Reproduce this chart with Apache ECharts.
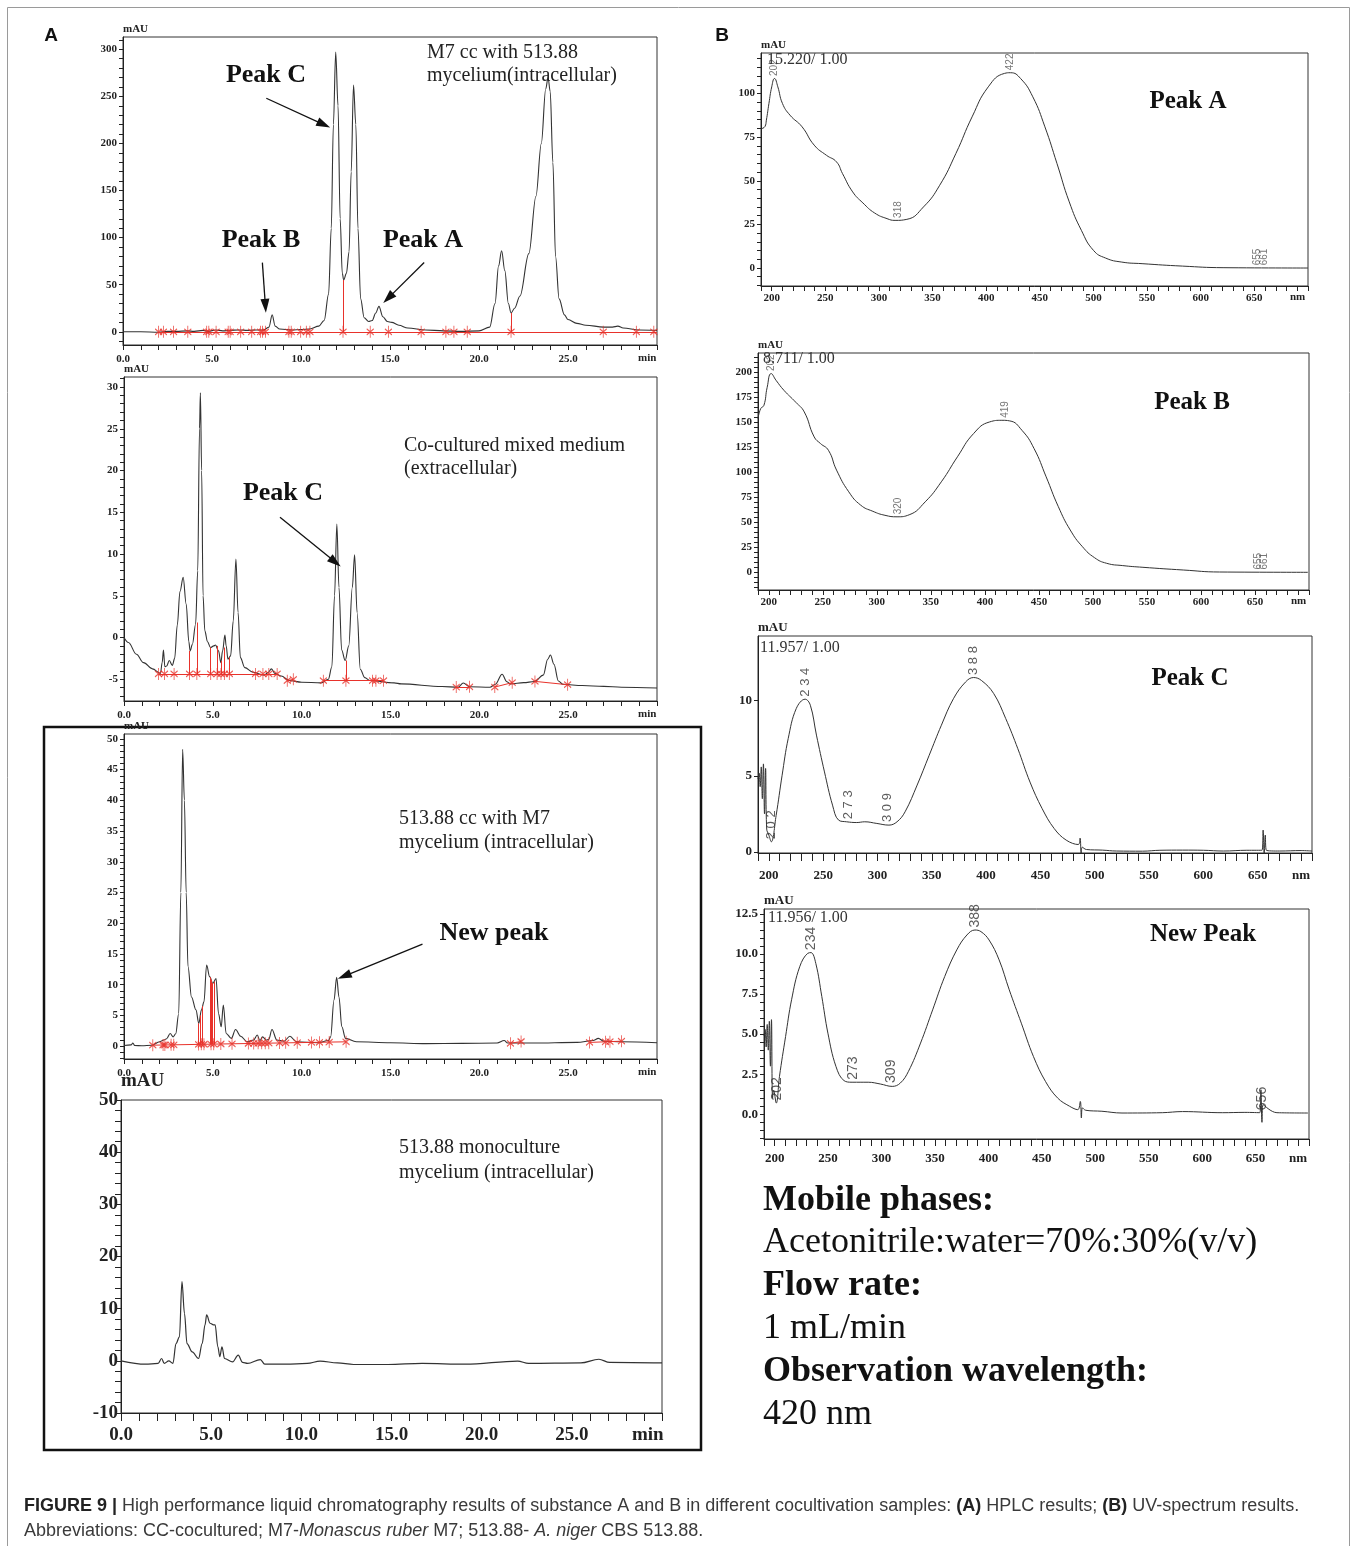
<!DOCTYPE html>
<html><head><meta charset="utf-8">
<script src="https://cdn.jsdelivr.net/npm/echarts@6/dist/echarts.min.js"></script>
<style>html,body{margin:0;padding:0;background:#fff}#c{width:1357px;height:1546px}</style>
</head><body><div id="c"></div>
<script>
// ================= DATA =================
// Panel A1: M7 cc with 513.88 mycelium (intracellular)
const a1Time = [0,1,2,2.5,3,3.6,4,4.5,4.8,5.2,5.6,6,6.5,7,7.5,7.9,8.2,8.38,8.55,8.8,9.5,10,10.5,11,11.3,11.55,11.7,11.82,11.95,12.08,12.2,12.32,12.4,12.55,12.7,12.82,12.95,13.08,13.2,13.35,13.55,13.8,14.0,14.2,14.38,14.6,14.85,15.1,15.5,16,17,18,19,20,20.6,20.9,21.1,21.27,21.45,21.65,21.8,22.0,22.3,22.8,23.2,23.5,23.75,23.88,24.0,24.15,24.3,24.5,24.8,25,25.5,26,27,27.5,27.8,28.1,29,30];
const a1Signal = [0,0,-0.5,0.5,0.5,1,0.5,1.5,0.5,2,1,1.5,2,1.5,2,2,5,18,6,3,2,2.5,3,6,12,40,110,220,297,240,120,62,55,62,85,170,262,220,110,35,15,11,12,20,27,16,11,10,7,4,2,1,0.5,1,5,30,70,86,65,30,20,25,38,83,144,200,258,270,255,180,80,35,18,13,9,7,5,5,6,4,2,1.5];
const a1MarkTime = [2.0,2.27,2.84,3.64,4.7,4.82,5.23,5.91,6.02,6.61,7.23,7.73,7.84,8.0,9.32,9.45,9.98,10.3,10.5,12.36,13.89,14.91,16.75,18.14,18.59,19.34,21.8,26.98,28.84,29.82];
const a1MarkLevel = [0,0,0,0,0,0,0,0,0,0,0,0,0,0,0,0,0,0,0,0,0,0,0,0,0,0,0,0,0,0];
const a1BaseStart = [2.0], a1BaseStartLevel = [0], a1BaseEnd = [30], a1BaseEndLevel = [0];
const a1DropTime = [12.36,21.8], a1DropBase = [0,0], a1DropTop = [55,20];

// Panel A2: co-cultured mixed medium (extracellular)
const a2Time = [0,0.25,0.7,1.1,1.6,2.05,2.15,2.22,2.3,2.4,2.55,2.72,2.85,3.0,3.15,3.33,3.5,3.65,3.72,3.85,4.03,4.15,4.25,4.3,4.37,4.45,4.55,4.7,4.87,5.05,5.15,5.32,5.45,5.55,5.68,5.75,5.85,6.0,6.15,6.3,6.42,6.55,6.8,7.25,7.9,8.1,8.3,8.5,8.85,9.3,10,11.1,11.5,11.7,11.85,11.98,12.1,12.25,12.45,12.65,12.85,12.98,13.12,13.3,13.55,13.85,15.2,15.6,17.9,18.8,19.1,19.45,20.6,20.9,21.28,21.55,21.75,22.5,23.1,23.6,23.85,24.0,24.2,24.45,24.7,25.8,27,28,30];
const a2Signal = [0,-0.6,-2,-3,-3.75,-4.3,-3,-1.5,-3.5,-3.4,-2.75,-3.35,-2.5,1.5,5.5,7.2,4,-0.5,-1.6,-0.8,1.6,8,25,29.3,20,5,0.8,-0.5,-1.2,-1.0,-0.9,-1.6,-3.0,-1.6,0.3,-1,-2.6,-2.2,2,9.4,3,-2.4,-3.6,-4.15,-4.5,-4.2,-3.75,-4.3,-4.6,-5.15,-5.35,-5.43,-5.0,-3.5,5,13.6,6,-1.5,-2.75,-1,6,9.9,3,-3.8,-4.8,-5.15,-5.43,-5.55,-5.87,-5.95,-5.45,-5.9,-5.95,-5.6,-4.4,-5.3,-5.55,-5.4,-5.27,-4.5,-2.6,-2.1,-3.2,-5.2,-5.6,-5.75,-5.85,-5.95,-6.05];
const a2MarkTime = [1.94,2.28,2.82,3.69,4.1,4.88,5.24,5.46,5.65,5.93,7.4,7.82,8.15,8.62,9.19,9.53,11.22,12.49,13.99,14.18,14.61,18.7,19.45,20.87,21.85,23.13,24.97];
const a2MarkLevel = [-4.36,-4.36,-4.36,-4.36,-4.36,-4.36,-4.36,-4.36,-4.36,-4.36,-4.36,-4.36,-4.36,-4.36,-5.17,-5.0,-5.17,-5.17,-5.17,-5.17,-5.17,-5.93,-5.9,-5.93,-5.4,-5.25,-5.65];
const a2BaseStart = [1.94,9.19,11.22,18.7,20.87,23.13], a2BaseStartLevel = [-4.36,-5.17,-5.17,-5.93,-5.93,-5.25];
const a2BaseEnd = [8.62,9.53,14.61,19.45,21.85,24.97], a2BaseEndLevel = [-4.36,-5.0,-5.17,-5.9,-5.4,-5.65];
const a2DropTime = [3.69,4.1,4.88,5.24,5.46,5.65,5.93,12.49];
const a2DropBase = [-4.36,-4.36,-4.36,-4.36,-4.36,-4.36,-4.36,-5.17];
const a2DropTop = [-1.6,1.8,-1.2,-1.0,-2.8,-1.2,-2.4,-2.75];

// Panel A3: 513.88 cc with M7 mycelium (intracellular)
const a3Time = [0,0.4,0.5,0.6,1.0,1.57,2.0,2.24,2.4,2.6,2.77,2.91,3.08,3.2,3.3,3.4,3.5,3.6,3.8,4.05,4.21,4.36,4.5,4.65,4.82,5.0,5.18,5.32,5.47,5.59,5.75,6.04,6.28,6.57,6.93,7.3,7.5,7.65,7.8,8.0,8.15,8.33,8.6,9.0,9.34,9.7,10.9,11.5,11.63,11.82,11.97,12.1,12.26,12.47,13.07,15,17,19,21,21.4,21.6,23,25.5,26.4,26.7,27.0,28,30];
const a3Signal = [0.1,0.2,0.5,0.1,0.05,0.15,0.7,1.0,1.2,2.06,1.5,2,5.3,25,48.3,40,25,13,8,5.9,3.7,5.9,7.2,13.2,11.3,10.2,11,5.3,3.15,6.7,2.06,1.25,2.7,1.6,0.7,1.0,1.8,0.9,1.5,1.0,1.1,2.7,1.0,0.8,1.6,0.7,0.54,0.9,1.5,7.5,11.2,8,3.15,1.25,0.7,0.55,0.4,0.45,0.5,0.9,0.5,0.5,0.6,0.9,1.25,0.8,0.7,0.55];
const a3MarkTime = [1.62,2.2,2.3,2.65,2.8,4.2,4.35,4.5,4.9,5.05,5.45,6.08,7.0,7.3,7.55,7.75,7.95,8.15,8.75,9.1,9.75,10.55,11.0,11.55,12.5,21.75,22.35,26.2,27.1,27.35,28.0];
const a3MarkLevel = [0.15,0.18,0.18,0.2,0.2,0.28,0.29,0.3,0.32,0.32,0.34,0.37,0.42,0.43,0.45,0.46,0.47,0.48,0.51,0.53,0.56,0.6,0.62,0.65,0.7,0.45,0.75,0.6,0.7,0.72,0.8];
const a3BaseStart = [1.62,21.75,26.2], a3BaseStartLevel = [0.15,0.45,0.6];
const a3BaseEnd = [12.5,22.35,28.0], a3BaseEndLevel = [0.7,0.75,0.8];
const a3DropTime = [4.2,4.3,4.42,4.85,4.92,4.99,5.06];
const a3DropBase = [0.28,0.29,0.3,0.32,0.32,0.32,0.32];
const a3DropTop = [3.7,5.0,6.5,11.2,10.8,10.3,10.5];

// Panel A4: 513.88 monoculture mycelium (intracellular)
const a4Time = [0,1.35,2.06,2.25,2.4,2.65,2.88,3.05,3.24,3.38,3.52,3.66,3.95,4.3,4.5,4.66,4.75,4.94,5.13,5.22,5.37,5.48,5.6,5.74,6.19,6.5,6.74,7.02,7.73,7.97,9.15,10.33,11.04,12,12.9,14.8,16.7,19.1,22,22.6,25.5,26.5,27.1,30];
const a4Signal = [0,-0.65,-0.5,0.45,-0.5,0,-0.5,3.3,4.6,15.2,9.1,3.3,1.7,0.45,3.3,6.9,8.8,7.2,6.9,6.9,2.7,0.8,2.7,0.45,-0.2,1.1,-0.3,-0.5,0.25,-0.65,-0.65,-0.5,-0.05,-0.4,-0.7,-0.7,-0.5,-0.65,-0.05,-0.5,-0.4,0.3,-0.3,-0.4];

// Panel B1: UV spectrum, Peak A (15.220 min)
const b1Wl = [190.6,193.6,195,197.4,200,202.6,205.7,210,217,228.3,239.6,251,260.4,266,275.5,285,296,307.5,315,326,341.5,356.6,371.7,386.8,401.9,417,422.6,432,443.4,454.7,466,477.4,488.7,500,511.3,526.4,545.3,583,620.8,700];
const b1Abs = [79.9,81,84.7,94.3,103.8,108.6,103.8,94.3,87.6,80.9,70.4,64.6,60.8,54.1,43.6,37.3,31.5,28.3,27.3,27.9,35,47.4,65.6,86.6,103.8,111.5,111.9,108.6,98.1,80.9,59.8,37.9,21.6,10.1,5.7,3.4,2.5,1.1,0.2,0];
const b1LabWl = [202,318,422,653,659], b1LabAbs = [108.6,27.3,111.9,0.1,0.1], b1LabText = ['202','318','422','655','661'];

// Panel B2: UV spectrum, Peak B (8.711 min)
const b2Wl = [190,192.5,195.5,198.5,202.2,206.7,214,225,232.8,242,247.8,255.2,262.7,274,285,296.3,307.5,318.7,329.9,344.8,359.7,374.6,389.6,404.5,415.7,423,434.3,445.5,456.7,468,479,490.3,501.5,512.7,527.6,546.3,583.6,617.2,699];
const b2Abs = [153.7,163.7,167,185,198.7,192,182,170,160.4,135.4,128.8,122,102.2,80.5,67.2,61,57,55.5,57.5,70.5,90.5,115.5,138.8,150.4,152,151.4,142,123.8,95.5,65.6,42.3,25.6,14.6,9,6.7,5,2.3,0.3,0];
const b2LabWl = [202,320,419,653,659], b2LabAbs = [198.7,55.5,152,0.2,0.2], b2LabText = ['202','320','419','655','661'];

// Panel B3: UV spectrum, Peak C (11.957 min)
const b3Wl = [190,191,192,193,194,195,196,197,198,200,202.2,206.7,212.2,217.8,225.2,233.4,238.2,243.8,251.2,258.6,264.2,271.6,280.9,288.3,299.4,310.5,318,325.4,336.5,347.6,358.8,369.9,381,388.4,395.8,407,418,429.2,440.4,451.5,462.6,473.7,484.9,486.5,487.5,488.5,492.3,507,520,544,560,581,600,618.4,640,654,655,656,657,658,670,690,700];
const b3Abs = [4.8,5.2,4.3,5.6,3.5,5.8,2.5,5.5,1.5,1.1,0.66,2.4,5.05,7.47,9.45,10.07,9.67,7.7,5.27,3.08,2.09,1.98,1.93,1.98,1.87,1.76,1.98,2.64,4.4,6.37,8.35,10.1,11.2,11.5,11.3,10.44,8.8,6.8,4.6,2.86,1.54,0.77,0.48,0.9,-0.15,0.3,0.15,0.11,0.05,0.04,0.1,0.11,0.1,0.05,0.1,0.1,1.43,-0.2,1.1,0.1,0.05,0.08,0.05];
const b3LabWl = [202,234,273,309,388], b3LabAbs = [0.66,10.07,1.98,1.8,11.5], b3LabText = ['2 0 2','2 3 4','2 7 3','3 0 9','3 8 8'];

// Panel B4: UV spectrum, New Peak (11.956 min)
const b4Wl = [190,191,192,193,194,195,196,197,198,199,201.5,204.5,210.2,215.8,223.4,231,234,238.5,244.1,249.8,257.3,264.9,272.4,287.5,298.8,310,317.6,325.2,336.5,347.8,359.1,370.4,379.9,387.4,393,400.6,410,419.5,430.8,442.1,453.4,464.7,476,483.6,486,487,488,491.1,506.2,525,562.7,581.6,619.3,640,654,655,656,657,670,699];
const b4Abs = [4.9,5.3,4.2,5.6,4.0,5.8,3.0,5.9,1.0,1.5,0.7,2.37,4.85,7.14,9.2,10.04,10.08,9.4,7.34,5.06,2.99,2.1,2.0,2.0,1.89,1.74,1.95,2.68,4.44,6.51,8.59,10.25,11.18,11.49,11.39,10.87,9.63,7.76,5.68,3.61,2.05,1.02,0.5,0.29,0.8,-0.23,0.4,0.25,0.19,0.08,0.1,0.17,0.1,0.12,0.1,1.53,-0.5,0.6,0.1,0.08];
const b4LabWl = [202,234,273,309,388,656], b4LabAbs = [0.7,10.08,2.0,1.8,11.49,0.1], b4LabText = ['202','234','273','309','388','656'];

// Tick labels
const aTimeLabels = [0,5,10,15,20,25];
const a1YLabels = [0,50,100,150,200,250,300];
const a2YLabels = [-5,0,5,10,15,20,25,30];
const a3YLabels = [0,5,10,15,20,25,30,35,40,45,50];
const a4YLabels = [-10,0,10,20,30,40,50];
const bWlLabels = [200,250,300,350,400,450,500,550,600,650];
const b1YLabels = [0,25,50,75,100];
const b2YLabels = [0,25,50,75,100,125,150,175,200];
const b3YLabels = [0,5,10];
const b4YLabels = [0,2.5,5,7.5,10,12.5];

// ================= HELPERS =================
const zip = (a, b) => a.map((x, i) => [x, b[i]]);
const steps = (a, b, s) => { const r = []; for (let v = a; v <= b + 1e-9; v += s) r.push(+v.toFixed(3)); return r; };
const SERIF = '"Liberation Serif","Times New Roman",serif';
const SANS = '"Liberation Sans",Arial,sans-serif';
const RED = '#e8322b';
const INK = '#222';
const STAR = 'path://M5,0L5,12M0,3L10,9M0,9L10,3';

const grids = [
  {left:123, top:37, width:534, height:308},
  {left:124, top:377, width:533, height:324},
  {left:124, top:734, width:533, height:325},
  {left:121, top:1100, width:541, height:313},
  {left:761, top:53, width:547, height:233},
  {left:758, top:353, width:551, height:237},
  {left:758, top:636, width:554, height:217},
  {left:764, top:909, width:545, height:230}
].map(g => Object.assign(g, {show:true, borderColor:'#333', borderWidth:1, backgroundColor:'transparent'}));

const xAxes = [], yAxes = [];
function axes(i, c) {
  const f = c.font || 11;
  xAxes.push({
    type:'value', gridIndex:i, min:c.xMin, max:c.xMax,
    axisLine:{onZero:false, lineStyle:{color:INK, width:1}},
    axisTick:{show:true, inside:false, length:c.xTickLen || 5, customValues:c.xTicks, lineStyle:{color:INK}},
    axisLabel:{customValues:c.xLabels, formatter:c.xFmt, fontFamily:SERIF, fontWeight:'bold', fontSize:f, color:INK, margin:c.xMargin || 9},
    splitLine:{show:false},
    name:c.xName, nameLocation:'end', nameGap:c.xNameGap,
    nameTextStyle:{fontFamily:SERIF, fontWeight:'bold', fontSize:f, color:INK, verticalAlign:'top', padding:[c.xNamePad || 8,0,0,0]}
  });
  yAxes.push({
    type:'value', gridIndex:i, min:c.yMin, max:c.yMax,
    axisLine:{onZero:false, lineStyle:{color:INK, width:1}},
    axisTick:{show:true, inside:false, length:c.yTickLen || 4, customValues:c.yTicks, lineStyle:{color:INK}},
    axisLabel:{customValues:c.yLabels, formatter:c.yFmt, fontFamily:SERIF, fontWeight:'bold', fontSize:c.yFont || f, color:INK, margin:c.yMargin || 6},
    splitLine:{show:false},
    name:'mAU', nameLocation:'end', nameGap:c.yNameGap || 2,
    nameTextStyle:{fontFamily:SERIF, fontWeight:'bold', fontSize:c.nameFont || f, color:INK, align:'left', verticalAlign:'bottom', padding:c.namePad || 0}
  });
}
const f1 = v => v.toFixed(1);
const f0 = v => String(v);
// A panels
axes(0, {xMin:0, xMax:30, xTicks:steps(0,30,1), xLabels:aTimeLabels, xFmt:f1, xName:'min', xNameGap:-19,
  yMin:-14, yMax:313, yTicks:steps(-10,310,10), yLabels:a1YLabels, yFmt:f0});
axes(1, {xMin:0, xMax:30, xTicks:steps(0,30,1), xLabels:aTimeLabels, xFmt:f1, xName:'min', xNameGap:-19,
  yMin:-7.6, yMax:31.2, yTicks:steps(-7,31,1), yLabels:a2YLabels, yFmt:f0});
axes(2, {xMin:0, xMax:30, xTicks:steps(0,30,1), xLabels:aTimeLabels, xFmt:f1, xName:'min', xNameGap:-19,
  yMin:-2.1, yMax:50.8, yTicks:steps(-2,50,1), yLabels:a3YLabels, yFmt:f0});
axes(3, {xMin:0, xMax:30, xTicks:steps(0,30,1), xLabels:aTimeLabels, xFmt:f1, xName:'min', xNameGap:-30,
  font:19, xTickLen:8, xMargin:13, xNamePad:13, yTickLen:6, yMargin:3,
  yMin:-10, yMax:50, yTicks:steps(-10,50,2), yLabels:a4YLabels, yFmt:f0, yNameGap:0, namePad:[0,0,0,0]});
// B panels
axes(4, {xMin:190, xMax:700, xTicks:steps(190,700,10), xLabels:bWlLabels, xFmt:f0, xName:'nm', xNameGap:-18, xMargin:7, xNamePad:6,
  yMin:-10.3, yMax:123.2, yTicks:steps(-10,120,5), yLabels:b1YLabels, yFmt:f0});
axes(5, {xMin:190, xMax:700, xTicks:steps(190,700,10), xLabels:bWlLabels, xFmt:f0, xName:'nm', xNameGap:-18, xMargin:7, xNamePad:6,
  yMin:-17.7, yMax:219.3, yTicks:steps(-15,215,5), yLabels:b2YLabels, yFmt:f0});
axes(6, {xMin:190, xMax:700, xTicks:steps(190,700,10), xLabels:bWlLabels, xFmt:f0, xName:'nm', xNameGap:-20,
  font:13, xTickLen:8, xMargin:16, xNamePad:16,
  yMin:-0.08, yMax:14.24, yTicks:[0,5,10], yLabels:b3YLabels, yFmt:f0});
axes(7, {xMin:190, xMax:700, xTicks:steps(190,700,10), xLabels:bWlLabels, xFmt:f0, xName:'nm', xNameGap:-20,
  font:13, xTickLen:7, xMargin:13, xNamePad:13,
  yMin:-1.54, yMax:12.8, yTicks:steps(-1.5,12.5,0.5), yLabels:b4YLabels, yFmt:f1});

// ================= SERIES =================
const series = [];
function trace(i, xs, ys, arrows, width, smooth, mono) {
  const s = {type:'line', xAxisIndex:i, yAxisIndex:i, data:zip(xs, ys), showSymbol:false, symbol:'none',
    smooth:smooth, lineStyle:{color:'#333', width:width || 1}, z:3, silent:true};
  if (mono) s.smoothMonotone = mono;
  if (arrows) {
    s.markLine = {silent:true, symbol:['none','triangle'], symbolSize:[9,14], animation:false,
      lineStyle:{color:'#111', width:1.3, type:'solid'}, label:{show:false},
      data: arrows.map(a => [{coord:a[0]}, {coord:a[1]}])};
  }
  series.push(s);
}
function integration(i, mt, ml, bs, bsl, be, bel, dt, db, dtop) {
  const lines = bs.map((s, k) => [{coord:[s, bsl[k]]}, {coord:[be[k], bel[k]]}])
    .concat(dt.map((t, k) => [{coord:[t, db[k]]}, {coord:[t, dtop[k]]}]));
  series.push({type:'scatter', xAxisIndex:i, yAxisIndex:i, data:zip(mt, ml), symbol:STAR, symbolSize:[7,12],
    itemStyle:{color:'none', borderColor:RED, borderWidth:1.1}, z:4, silent:true,
    markLine:{silent:true, symbol:['none','none'], animation:false, label:{show:false},
      lineStyle:{color:RED, width:1, type:'solid'}, data:lines}});
}
function peakLabels(i, wl, ab, txt, size, color) {
  series.push({type:'scatter', xAxisIndex:i, yAxisIndex:i, symbolSize:1, itemStyle:{color:'transparent'}, silent:true, z:5,
    data: wl.map((w, k) => ({value:[w, ab[k]], name:txt[k]})),
    label:{show:true, formatter:p => p.name, position:'top', distance:2, rotate:90, align:'left', verticalAlign:'middle',
      fontFamily:SANS, fontSize:size, color:color}});
}

trace(0, a1Time, a1Signal, [[[8.05,248],[11.28,220]], [[7.83,73.5],[8.0,27.6]], [[16.92,73.5],[14.9,35.8]]], 1.1, 0.35, 'x');
integration(0, a1MarkTime, a1MarkLevel, a1BaseStart, a1BaseStartLevel, a1BaseEnd, a1BaseEndLevel, a1DropTime, a1DropBase, a1DropTop);
trace(1, a2Time, a2Signal, [[[8.78,14.4],[11.89,9.04]]], 1.1, 0.35, 'x');
integration(1, a2MarkTime, a2MarkLevel, a2BaseStart, a2BaseStartLevel, a2BaseEnd, a2BaseEndLevel, a2DropTime, a2DropBase, a2DropTop);
trace(2, a3Time, a3Signal, [[[16.8,16.6],[12.4,11.4]]], 1.1, 0.35, 'x');
integration(2, a3MarkTime, a3MarkLevel, a3BaseStart, a3BaseStartLevel, a3BaseEnd, a3BaseEndLevel, a3DropTime, a3DropBase, a3DropTop);
trace(3, a4Time, a4Signal, null, 1.2, 0.35, 'x');
trace(4, b1Wl, b1Abs, null, 1, 0.5);
peakLabels(4, b1LabWl, b1LabAbs, b1LabText, 10, '#555');
trace(5, b2Wl, b2Abs, null, 1, 0.5);
peakLabels(5, b2LabWl, b2LabAbs, b2LabText, 10, '#555');
trace(6, b3Wl, b3Abs, null, 1, 0.4);
peakLabels(6, b3LabWl, b3LabAbs, b3LabText, 13, '#333');
trace(7, b4Wl, b4Abs, null, 1, 0.4);
peakLabels(7, b4LabWl, b4LabAbs, b4LabText, 14, '#333');

// ================= TEXT / FRAMES =================
function txt(x, y, text, size, opts) {
  opts = opts || {};
  return {type:'text', x:x, y:y, z:10, silent:true, style:Object.assign({text:text, fontSize:size,
    fontFamily:opts.family || SERIF, fontWeight:opts.weight || 'normal', fill:opts.color || '#222',
    align:opts.align || 'left', verticalAlign:'middle'}, opts.extra || {})};
}
const graphics = [
  {type:'rect', z:0, silent:true, shape:{x:7.5, y:7.5, width:1342, height:1600}, style:{fill:'none', stroke:'#9a9a9a', lineWidth:1}},
  {type:'rect', z:0, silent:true, shape:{x:44, y:727, width:657, height:723}, style:{fill:'none', stroke:'#111', lineWidth:2.5}},
  txt(51, 36, 'A', 19, {family:SANS, weight:'bold', align:'center', color:'#111'}),
  txt(722, 36, 'B', 19, {family:SANS, weight:'bold', align:'center', color:'#111'}),
  // A1
  txt(266, 75, 'Peak C', 26, {weight:'bold', align:'center', color:'#111'}),
  txt(261, 240, 'Peak B', 26, {weight:'bold', align:'center', color:'#111'}),
  txt(423, 240, 'Peak A', 26, {weight:'bold', align:'center', color:'#111'}),
  txt(427, 53, 'M7 cc with 513.88', 20),
  txt(427, 76, 'mycelium(intracellular)', 20),
  // A2
  txt(404, 446, 'Co-cultured mixed medium', 20),
  txt(404, 469, '(extracellular)', 20),
  txt(283, 493, 'Peak C', 26, {weight:'bold', align:'center', color:'#111'}),
  // A3
  txt(399, 819, '513.88 cc with M7', 20),
  txt(399, 843, 'mycelium (intracellular)', 20),
  txt(494, 933, 'New peak', 26, {weight:'bold', align:'center', color:'#111'}),
  // A4
  txt(399, 1148, '513.88 monoculture', 20),
  txt(399, 1173, 'mycelium (intracellular)', 20),
  // B
  txt(1188, 102, 'Peak A', 25, {weight:'bold', align:'center', color:'#111'}),
  txt(767, 60, '15.220/ 1.00', 16, {color:'#333'}),
  txt(1192, 403, 'Peak B', 25, {weight:'bold', align:'center', color:'#111'}),
  txt(763, 359, '8.711/ 1.00', 16, {color:'#333'}),
  txt(1190, 679, 'Peak C', 25, {weight:'bold', align:'center', color:'#111'}),
  txt(760, 648, '11.957/ 1.00', 16, {color:'#333'}),
  txt(1203, 935, 'New Peak', 25, {weight:'bold', align:'center', color:'#111'}),
  txt(768, 918, '11.956/ 1.00', 16, {color:'#333'}),
  // Method text
  txt(763, 1201, 'Mobile phases:', 36, {weight:'bold', color:'#111'}),
  txt(763, 1243, 'Acetonitrile:water=70%:30%(v/v)', 36, {color:'#111'}),
  txt(763, 1286, 'Flow rate:', 36, {weight:'bold', color:'#111'}),
  txt(763, 1329, '1 mL/min', 36, {color:'#111'}),
  txt(763, 1372, 'Observation wavelength:', 36, {weight:'bold', color:'#111'}),
  txt(763, 1415, '420 nm', 36, {color:'#111'}),
  // Caption
  txt(24, 1506, '{b|FIGURE 9 |} High performance liquid chromatography results of substance A and B in different cocultivation samples: {b|(A)} HPLC results; {b|(B)} UV-spectrum results.', 18,
    {family:SANS, color:'#3a3a3a', extra:{rich:{b:{fontWeight:'bold', fontSize:18, fontFamily:SANS, fill:'#222'}}}}),
  txt(24, 1531, 'Abbreviations: CC-cocultured; M7-{i|Monascus ruber} M7; 513.88- {i|A. niger} CBS 513.88.', 18,
    {family:SANS, color:'#3a3a3a', extra:{rich:{i:{fontStyle:'italic', fontSize:18, fontFamily:SANS, fill:'#3a3a3a'}}}})
];

const chart = echarts.init(document.getElementById('c'), null, {renderer:'canvas', width:1357, height:1546});
chart.setOption({
  animation:false,
  backgroundColor:'#ffffff',
  grid:grids, xAxis:xAxes, yAxis:yAxes, series:series, graphic:graphics
});
</script>
</body></html>
